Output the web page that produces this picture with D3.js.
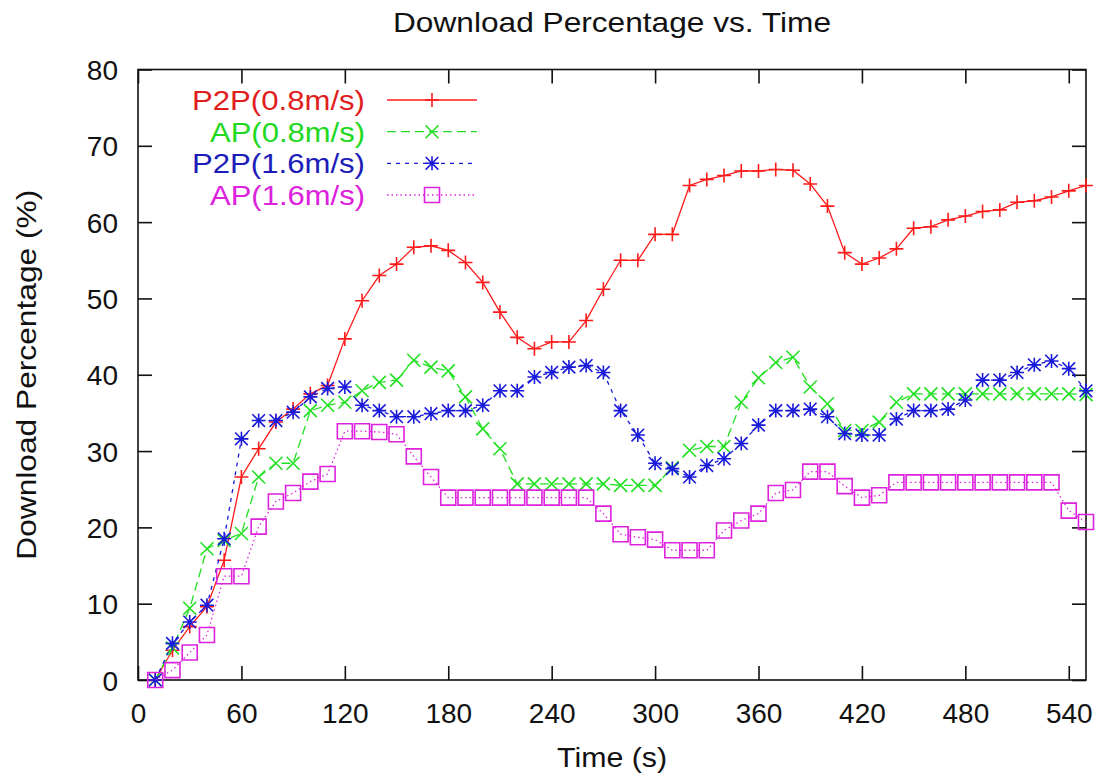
<!DOCTYPE html>
<html>
<head>
<meta charset="utf-8">
<script src="https://cdn.jsdelivr.net/npm/d3@7"></script>
<style>
  html, body { margin: 0; padding: 0; background: #ffffff; }
  svg { display: block; }
  text { font-family: "Liberation Sans", Arial, Helvetica, sans-serif; }
</style>
</head>
<body>
<svg id="chart" width="1101" height="777"></svg>
<script>
// Sampling instants (s)
const timeSec = [10, 20, 30, 40, 50, 60, 70, 80, 90, 100, 110, 120, 130, 140, 150, 160, 170, 180, 190, 200,
  210, 220, 230, 240, 250, 260, 270, 280, 290, 300, 310, 320, 330, 340, 350, 360, 370, 380, 390, 400,
  410, 420, 430, 440, 450, 460, 470, 480, 490, 500, 510, 520, 530, 540, 550];

// Download percentage (%) per scheme
const p2pSlow = [0, 3.9, 7.0, 9.6, 15.7, 26.6, 30.3, 33.8, 35.5, 37.5, 38.6, 44.7, 49.7, 53.0, 54.5, 56.7, 56.9, 56.3, 54.7, 52.1,
  48.2, 44.9, 43.4, 44.3, 44.3, 47.1, 51.2, 55.0, 55.0, 58.4, 58.4, 64.8, 65.6, 66.1, 66.7, 66.7, 66.9, 66.8, 65.0, 62.1,
  56.0, 54.5, 55.3, 56.5, 59.2, 59.4, 60.3, 60.8, 61.4, 61.6, 62.6, 62.8, 63.3, 64.1, 64.8];
const apSlow = [0, 4.2, 9.4, 17.2, 18.3, 19.2, 26.6, 28.4, 28.4, 35.3, 36.0, 36.4, 37.9, 39.0, 39.3, 41.9, 41.0, 40.5, 37.1, 32.9,
  30.3, 25.7, 25.7, 25.7, 25.7, 25.7, 25.7, 25.5, 25.5, 25.5, 27.8, 30.1, 30.6, 30.6, 36.4, 39.6, 41.6, 42.3, 38.4, 36.2,
  32.7, 32.7, 33.8, 36.4, 37.5, 37.5, 37.5, 37.5, 37.5, 37.5, 37.5, 37.5, 37.5, 37.5, 37.4];
const p2pFast = [0, 4.8, 7.6, 9.8, 18.5, 31.6, 34.0, 34.0, 35.1, 37.1, 38.2, 38.4, 36.0, 35.3, 34.5, 34.5, 34.9, 35.3, 35.3, 36.0,
  37.9, 37.9, 39.7, 40.3, 41.0, 41.2, 40.3, 35.3, 32.1, 28.4, 27.7, 26.6, 28.1, 29.0, 31.0, 33.4, 35.3, 35.3, 35.5, 34.5,
  32.3, 32.1, 32.1, 34.2, 35.3, 35.3, 35.5, 36.7, 39.3, 39.3, 40.3, 41.3, 41.8, 40.8, 37.9];
const apFast = [0, 1.3, 3.6, 5.9, 13.6, 13.6, 20.1, 23.4, 24.5, 26.0, 27.0, 32.6, 32.6, 32.5, 32.2, 29.3, 26.6, 23.9, 23.9, 23.9,
  23.9, 23.9, 23.9, 23.9, 23.9, 23.9, 21.8, 19.1, 18.7, 18.4, 17.0, 17.0, 17.0, 19.6, 20.9, 21.8, 24.5, 24.9, 27.3, 27.3,
  25.4, 23.9, 24.2, 25.9, 25.9, 25.9, 25.9, 25.9, 25.9, 25.9, 25.9, 25.9, 25.9, 22.2, 20.7];

// Axis ticks
const xTicks = [0, 60, 120, 180, 240, 300, 360, 420, 480, 540];
const yTicks = [0, 10, 20, 30, 40, 50, 60, 70, 80];

const seriesNames = ["P2P(0.8m/s)", "AP(0.8m/s)", "P2P(1.6m/s)", "AP(1.6m/s)"];
const seriesValues = [p2pSlow, apSlow, p2pFast, apFast];

// Presentation of each series: colour, dash pattern, point symbol
const styles = [
  { color: "#ff1a1a", text: "#e01e1e", dash: null,  marker: "plus" },
  { color: "#22e022", text: "#22d822", dash: "9,5", marker: "cross" },
  { color: "#1a1adb", text: "#1c1cb8", dash: "4,5", marker: "star" },
  { color: "#dd22dd", text: "#dd22dd", dash: "1.5,3", marker: "square" }
];

const svg = d3.select("#chart");
const plot = { left: 138, right: 1086, top: 69.5, bottom: 680 };

const x = d3.scaleLinear().domain([0, 550]).range([plot.left, plot.right]);
const y = d3.scaleLinear().domain([0, 80]).range([plot.bottom, plot.top]);

const FONT = 28;
const TICK = 14;

// Frame
svg.append("rect")
  .attr("x", plot.left).attr("y", plot.top)
  .attr("width", plot.right - plot.left).attr("height", plot.bottom - plot.top)
  .attr("fill", "none").attr("stroke", "#111").attr("stroke-width", 1.6);

// Inward ticks on all four sides, labels on bottom and left
const bottomAxis = d3.axisBottom(x).tickValues(xTicks).tickSizeInner(-TICK).tickSizeOuter(0).tickPadding(TICK + 10);
const topAxis = d3.axisTop(x).tickValues(xTicks).tickSizeInner(-TICK).tickSizeOuter(0).tickFormat("");
const leftAxis = d3.axisLeft(y).tickValues(yTicks).tickSizeInner(-TICK).tickSizeOuter(0).tickPadding(TICK + 20);
const rightAxis = d3.axisRight(y).tickValues(yTicks).tickSizeInner(-TICK).tickSizeOuter(0).tickFormat("");

function styleAxis(g) {
  g.select(".domain").remove();
  g.selectAll(".tick line").attr("stroke", "#111").attr("stroke-width", 1.6);
  g.selectAll(".tick text").attr("fill", "#111").style("font-size", FONT + "px")
    .style("font-family", "'Liberation Sans', Arial, sans-serif");
}

svg.append("g").attr("transform", `translate(0,${plot.bottom})`).call(bottomAxis).call(styleAxis)
  .selectAll(".tick text").attr("dy", null).attr("y", 43);
svg.append("g").attr("transform", `translate(0,${plot.top})`).call(topAxis).call(styleAxis);
svg.append("g").attr("transform", `translate(${plot.left},0)`).call(leftAxis).call(styleAxis)
  .selectAll(".tick text").attr("x", -20).attr("dy", "0.36em");
svg.append("g").attr("transform", `translate(${plot.right},0)`).call(rightAxis).call(styleAxis);

// Title and axis titles
svg.append("text")
  .attr("x", 612).attr("y", 32).attr("text-anchor", "middle")
  .attr("textLength", 438).attr("lengthAdjust", "spacingAndGlyphs")
  .style("font-size", FONT + "px").attr("fill", "#111")
  .text("Download Percentage vs. Time");

svg.append("text")
  .attr("x", 612).attr("y", 767).attr("text-anchor", "middle")
  .attr("textLength", 110).attr("lengthAdjust", "spacingAndGlyphs")
  .style("font-size", FONT + "px").attr("fill", "#111")
  .text("Time (s)");

svg.append("text")
  .attr("transform", `translate(36,${(plot.top + plot.bottom) / 2}) rotate(-90)`)
  .attr("text-anchor", "middle")
  .attr("textLength", 370).attr("lengthAdjust", "spacingAndGlyphs")
  .style("font-size", FONT + "px").attr("fill", "#111")
  .text("Download Percentage (%)");

// Point symbols
function drawMarker(g, kind, cx, cy, color) {
  const s = 7;
  const path = d3.path();
  if (kind === "plus" || kind === "star") {
    path.moveTo(cx - s, cy); path.lineTo(cx + s, cy);
    path.moveTo(cx, cy - s); path.lineTo(cx, cy + s);
  }
  if (kind === "cross" || kind === "star") {
    const d = kind === "star" ? 6.3 : 6.5;
    path.moveTo(cx - d, cy - d); path.lineTo(cx + d, cy + d);
    path.moveTo(cx - d, cy + d); path.lineTo(cx + d, cy - d);
  }
  if (kind === "square") {
    path.rect(cx - 7.5, cy - 7.5, 15, 15);
  }
  g.append("path").attr("d", path.toString())
    .attr("fill", "none").attr("stroke", color).attr("stroke-width", 1.6);
}

const line = d3.line().x(d => x(d[0])).y(d => y(d[1]));

seriesValues.forEach((vals, i) => {
  const st = styles[i];
  const pts = timeSec.map((t, k) => [t, vals[k]]);
  const g = svg.append("g");
  g.append("path").datum(pts).attr("d", line)
    .attr("fill", "none").attr("stroke", st.color).attr("stroke-width", 1.3)
    .attr("stroke-dasharray", st.dash);
  pts.forEach(p => drawMarker(g, st.marker, x(p[0]), y(p[1]), st.color));
});

// Legend
const legendRows = [100, 131.7, 163.3, 195];
const legendTextWidths = [173, 155, 173, 155];
seriesNames.forEach((name, i) => {
  const st = styles[i];
  const ly = legendRows[i];
  const g = svg.append("g");
  g.append("text")
    .attr("x", 365).attr("y", ly + 10).attr("text-anchor", "end")
    .attr("textLength", legendTextWidths[i]).attr("lengthAdjust", "spacingAndGlyphs")
    .style("font-size", FONT + "px").attr("fill", st.text)
    .text(name);
  g.append("line")
    .attr("x1", 387).attr("x2", 477).attr("y1", ly).attr("y2", ly)
    .attr("stroke", st.color).attr("stroke-width", 1.3)
    .attr("stroke-dasharray", st.dash);
  drawMarker(g, st.marker, 432, ly, st.color);
});
</script>
</body>
</html>
